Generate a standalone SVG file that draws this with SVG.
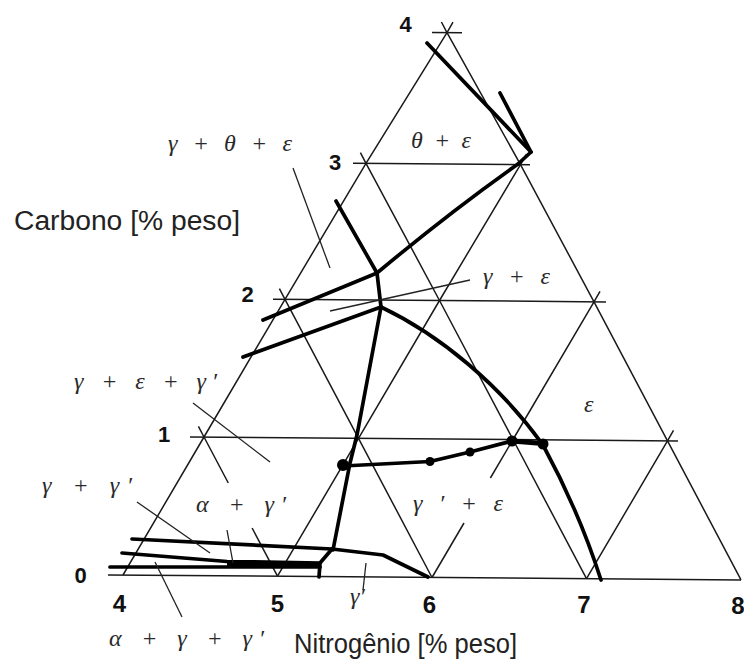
<svg xmlns="http://www.w3.org/2000/svg" width="744" height="662" viewBox="0 0 744 662">
<style>
.g{stroke:#1a1a1a;stroke-width:1.5;fill:none;stroke-linejoin:round}
.t{stroke:#000;stroke-width:3.7;fill:none;stroke-linejoin:round;stroke-linecap:round}
.l{stroke:#222;stroke-width:1.3;fill:none}
.num{font-family:"Liberation Sans",Arial,sans-serif;font-weight:bold;fill:#111;text-anchor:middle}
.ax{font-family:"Liberation Sans",Arial,sans-serif;font-size:27px;fill:#222}
.ph{font-family:"Liberation Serif","DejaVu Serif",serif;font-style:italic;font-size:24px;fill:#2a2a2a}
.dot{fill:#000}
</style>
<rect width="744" height="662" fill="#fff"/>
<g id="grid">
<polyline class="g" points="108,574.9 741,579.9"/>
<polyline class="g" points="190,436.9 678,440.9"/>
<polyline class="g" points="273,299.2 606,301.9"/>
<polyline class="g" points="353,163.2 530,164.7"/>
<polyline class="g" points="432,32.5 462,32.7"/>
<polyline class="g" points="123,575 204,437 285,299.3 366,163.3 447,32.6 453,22.2"/>
<polyline class="g" points="277.5,576.2 358.5,438.3 439.5,300.5 520.5,164.6 526.5,154"/>
<polyline class="g" points="432,577.5 464,523"/>
<polyline class="g" points="490.4,478 513,439.5 594,301.8 600,291.4"/>
<polyline class="g" points="586.5,578.7 667.5,440.8 673.5,430.4"/>
<polyline class="g" points="277.5,576.2 252.1,528"/>
<polyline class="g" points="228.3,483 204,437 198.4,426.4"/>
<polyline class="g" points="432,577.5 358.5,438.3 285,299.3 279.4,288.7"/>
<polyline class="g" points="586.5,578.7 513,439.5 439.5,300.5 366,163.3 360.4,152.7"/>
<polyline class="g" points="741,579.9 667.5,440.8 594,301.8 520.5,164.6 447,32.6 441.4,22"/>
</g>
<g id="boundaries">
<polyline class="t" points="427,43 531,152 518,164"/>
<polyline class="t" points="500,93 531,152"/>
<path class="t" d="M518,164 Q450,212 377,273 L263,320"/>
<polyline class="t" points="336,201 377,273 381,307"/>
<polyline class="t" points="243,357 381,307"/>
<path class="t" d="M381,307 C440,335 500,385 543,445 C562,480 585,530 601,580"/>
<polyline class="t" points="381,307 357,435 350,463 333,550"/>
<polyline class="t" points="343,466 430,461.5 470,452 512,441"/>
<polyline class="t" style="stroke-width:5" points="512,441 543,443.5"/>
<circle class="dot" cx="343" cy="465" r="6"/>
<circle class="dot" cx="430" cy="461.5" r="4.5"/>
<circle class="dot" cx="470" cy="452" r="4.5"/>
<circle class="dot" cx="512" cy="441" r="5.5"/>
<circle class="dot" cx="543" cy="444" r="5.5"/>
<polyline class="t" points="132,539 332,549 383,555 428,577"/>
<polyline class="t" points="122,553 227,561.5 320,563"/>
<polyline class="t" points="110,567 320,567"/>
<polygon fill="#000" points="227,561.5 320,563 320,567 227,567"/>
<polyline class="t" points="332,549 320,563 319,577"/>
</g>
<g id="leaders">
<line class="l" x1="293" y1="168" x2="330" y2="268"/>
<line class="l" x1="330" y1="311" x2="470" y2="280"/>
<line class="l" x1="193" y1="403" x2="270" y2="462"/>
<line class="l" x1="137" y1="502" x2="210" y2="553"/>
<line class="l" x1="227" y1="530" x2="233" y2="563"/>
<line class="l" x1="155" y1="562" x2="182" y2="617"/>
<line class="l" x1="366" y1="563" x2="363" y2="590"/>
</g>
<g id="numbers">
<text class="num" x="405.5" y="32" font-size="22">4</text>
<text class="num" x="335" y="170" font-size="22">3</text>
<text class="num" x="247.5" y="302" font-size="22">2</text>
<text class="num" x="164" y="442" font-size="22">1</text>
<text class="num" x="80.5" y="583" font-size="22">0</text>
<text class="num" x="119.5" y="612" font-size="24">4</text>
<text class="num" x="277.5" y="612" font-size="24">5</text>
<text class="num" x="429.5" y="613" font-size="24">6</text>
<text class="num" x="584" y="613" font-size="24">7</text>
<text class="num" x="738" y="614" font-size="24">8</text>
</g>
<g id="axes">
<text class="ax" x="14" y="230" textLength="226" lengthAdjust="spacingAndGlyphs">Carbono [% peso]</text>
<text class="ax" x="294" y="653" textLength="223" lengthAdjust="spacingAndGlyphs">Nitrogênio [% peso]</text>
</g>
<g id="phases">
<text class="ph" x="168" y="151" textLength="124" lengthAdjust="spacing">γ + θ + ε</text>
<text class="ph" x="411" y="148" textLength="60" lengthAdjust="spacing">θ + ε</text>
<text class="ph" x="483" y="284" textLength="67" lengthAdjust="spacing">γ + ε</text>
<text class="ph" x="584" y="412">ε</text>
<text class="ph" x="74" y="389" textLength="143" lengthAdjust="spacing">γ + ε + γ′</text>
<text class="ph" x="42" y="493" textLength="90" lengthAdjust="spacing">γ + γ′</text>
<text class="ph" x="196" y="512" textLength="90" lengthAdjust="spacing">α + γ′</text>
<text class="ph" x="413" y="511" textLength="90" lengthAdjust="spacing">γ ′ + ε</text>
<text class="ph" x="350" y="604">γ′</text>
<text class="ph" x="109" y="646" textLength="155" lengthAdjust="spacing">α + γ + γ′</text>
</g>
</svg>
